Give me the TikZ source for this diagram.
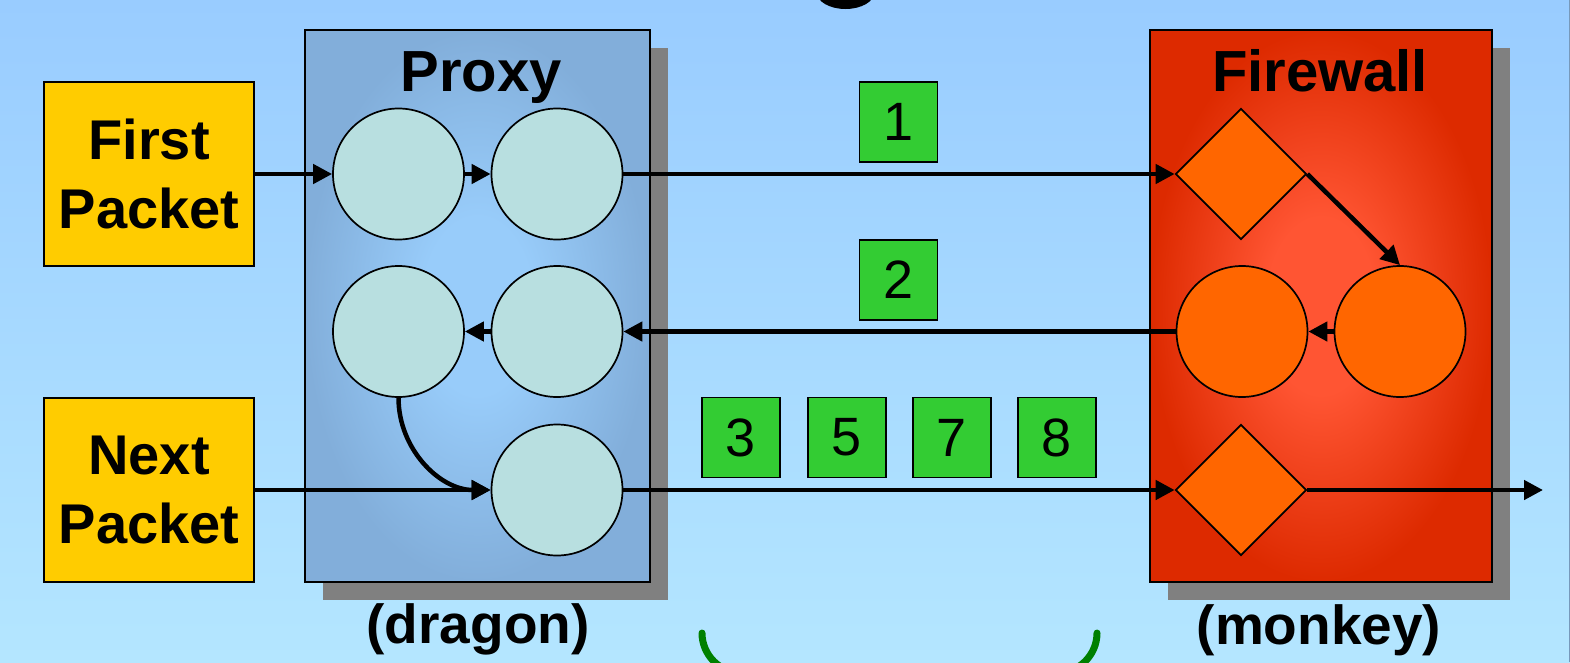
\documentclass[tikz,border=0pt]{standalone}
\usepackage{fontspec}
\setmainfont{Liberation Sans}
\usetikzlibrary{shapes.geometric,arrows.meta}
\definecolor{bgtop}{HTML}{99CCFF}
\definecolor{bgbot}{HTML}{B4E6FF}
\definecolor{pin}{HTML}{98CCFA}
\definecolor{pout}{HTML}{82AEDA}
\definecolor{fin}{HTML}{FF5533}
\definecolor{fout}{HTML}{DD2A00}
\definecolor{pkt}{HTML}{FFCC00}
\definecolor{cfill}{HTML}{B8DFE0}
\definecolor{ofill}{HTML}{FF6600}
\definecolor{gfill}{HTML}{33CC33}
\definecolor{bracecol}{HTML}{008000}
\definecolor{shadowcol}{HTML}{808080}
\definecolor{edgecol}{HTML}{7799BB}
\pgfdeclareradialshading{proxysh}{\pgfpoint{0bp}{0bp}}{color(0bp)=(pin); color(8bp)=(pin); color(25bp)=(pout); color(50bp)=(pout)}
\pgfdeclareradialshading{firesh}{\pgfpoint{0bp}{0bp}}{color(0bp)=(fin); color(8bp)=(fin); color(25bp)=(fout); color(50bp)=(fout)}
\tikzset{
  pktbox/.style={draw=black, line width=2pt, fill=pkt, minimum width=210pt, minimum height=184pt, inner sep=0pt, align=center, font=\bfseries\fontsize{56}{69}\selectfont},
  bigbox/.style={draw=black, line width=2pt, minimum width=#1, minimum height=552pt, inner sep=0pt},
  circ/.style={circle, draw=black, line width=1.7pt, fill=#1, minimum size=131pt, inner sep=0pt},
  diam/.style={diamond, draw=black, line width=1.7pt, fill=ofill, minimum width=131pt, minimum height=131pt, inner sep=0pt},
  gbox/.style={draw=black, line width=1.5pt, fill=gfill, minimum width=78pt, minimum height=80pt, inner sep=0pt, font=\fontsize{54}{54}\selectfont},
  title/.style={anchor=base, inner sep=0pt, font=\bfseries\fontsize{58}{60}\selectfont},
  host/.style={anchor=base, inner sep=0pt, font=\bfseries\fontsize{55}{60}\selectfont},
  arr/.style={line width=4.5pt, -{Triangle[length=19pt,width=19pt]}},
}
\begin{document}
\begin{tikzpicture}[x=1pt, y=-1pt]
\useasboundingbox (0,0) rectangle (1570,662);
\clip (0,0) rectangle (1570,662);
% background
\shade[top color=bgtop, bottom color=bgbot] (0,0) rectangle (1570,662);
\draw[edgecol, line width=1pt] (1569,0) -- (1569,662);
% glyph fragment at top
\fill[black] (845.5,-8) ellipse [x radius=29pt, y radius=17pt];
% shadows
\fill[shadowcol] (323,48) rectangle (668,600);
\fill[shadowcol] (1168,48) rectangle (1510,600);
% big boxes
\node[bigbox=345pt, shading=proxysh] (proxy) at (477.5,306) {};
\node[bigbox=342pt, shading=firesh] (fire) at (1321,306) {};
\node[title] (proxyt) at (481,91) {Proxy};
\node[title] (firet) at (1320,91) {Firewall};
% packet boxes
\node[pktbox] (pkt1) at (149,174) {First\\Packet};
\node[pktbox] (pkt2) at (149,490) {Next\\Packet};
% proxy circles
\node[circ=cfill] (c1) at (398.5,174) {};
\node[circ=cfill] (c2) at (557,174) {};
\node[circ=cfill] (c3) at (398.5,331.5) {};
\node[circ=cfill] (c4) at (557,331.5) {};
\node[circ=cfill] (c5) at (557,490) {};
% firewall shapes
\node[diam] (d1) at (1241,174) {};
\node[circ=ofill] (f1) at (1242,331.5) {};
\node[circ=ofill] (f2) at (1400,331.5) {};
\node[diam] (d2) at (1241,490) {};
\coordinate (out) at (1543,490);
% green boxes
\node[gbox] (g1) at (898.5,122) {1};
\node[gbox] (g2) at (898.5,280) {2};
\node[gbox] (g3) at (741,437.5) {3};
\node[gbox] (g5) at (847,437.5) {5};
\node[gbox] (g7) at (952,437.5) {7};
\node[gbox] (g8) at (1057,437.5) {8};
% host labels
\node[host] (dragon) at (478,643) {(dragon)};
\node[host] (monkey) at (1319,644) {(monkey)};
% connectors
\draw[arr] (pkt1.east) -- (c1.west);
\draw[arr] (c1.east) -- (c2.west);
\draw[arr] (c2.east) -- (d1.west);
\draw[arr] (d1.east) -- (f2.north);
\draw[arr] (f2.west) -- (f1.east);
\draw[arr] (f1.west) -- (c4.east);
\draw[arr] (c4.west) -- (c3.east);
\draw[arr] (c3.south) to[out=-90, in=180] (c5.west);
\draw[arr] (pkt2.east) -- (c5.west);
\draw[arr] (c5.east) -- (d2.west);
\draw[arr] (d2.east) -- (out);
% green brace
\draw[bracecol, line width=7pt, line cap=round] (702,633) .. controls (702,655) and (720,673) .. (742,673) -- (1057,673) .. controls (1079,673) and (1097,655) .. (1097,633);
\end{tikzpicture}
\end{document}
